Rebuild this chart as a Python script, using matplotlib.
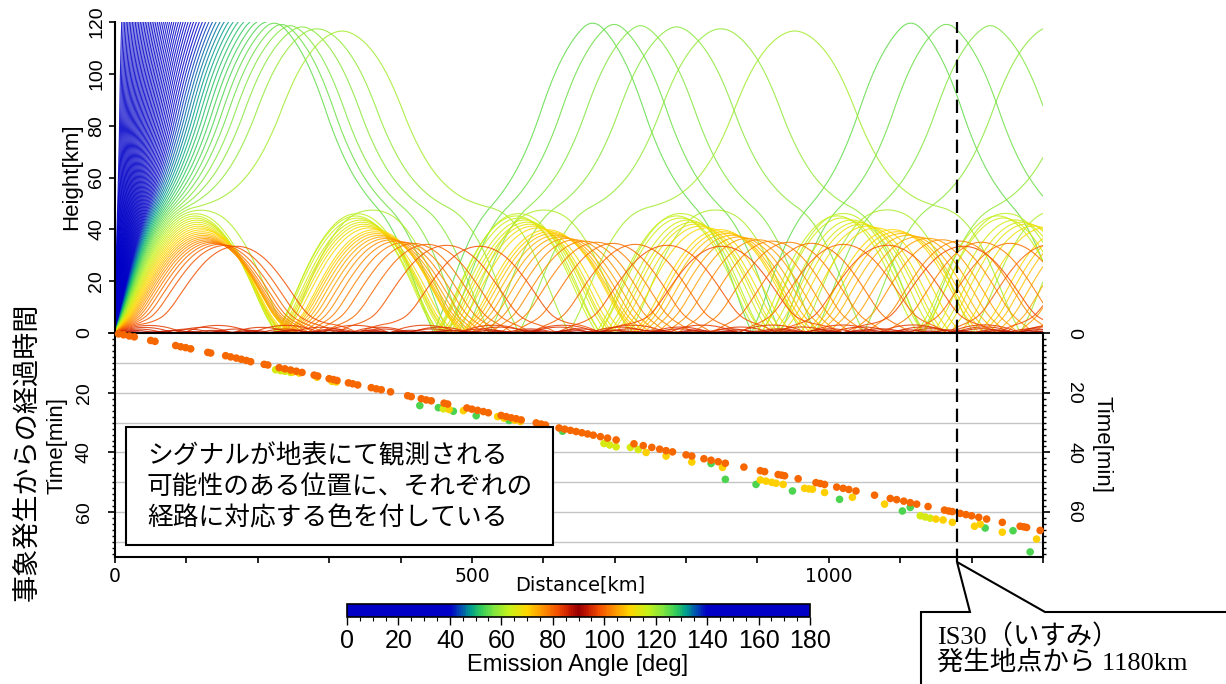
import numpy as np
import matplotlib
matplotlib.use("Agg")
import matplotlib.pyplot as plt
from matplotlib.colors import LinearSegmentedColormap, Normalize
from matplotlib.ticker import MultipleLocator, FixedLocator
from matplotlib.patches import Rectangle, Polygon
from matplotlib.collections import LineCollection
from matplotlib.cm import ScalarMappable
from matplotlib import font_manager as fm

# ---------------------------------------------------------------- data
# effective sound-speed profile (normalised to the ground value)
profile_height_km = [0, 1.5, 3.5, 5.5, 8, 12, 18, 25, 30, 34, 37, 40, 43.5, 46,
                     48.5, 51, 58, 70, 85, 95, 105, 112, 116, 118, 120, 130]
profile_speed = [1.000, 1.004, 1.0092, 1.000, 0.965, 0.925, 0.925, 0.950, 0.985,
                 1.014, 1.040, 1.066, 1.103, 1.133, 1.152, 1.146, 1.105, 1.010,
                 0.915, 0.960, 1.045, 1.108, 1.148, 1.176, 1.235, 1.300]
# horizontal wind along the path (normalised to the ground sound speed)
wind_height_km = [0, 5, 15, 30, 48, 65, 85, 100, 120, 130]
wind_speed = [0.0, 0.03, 0.08, 0.08, 0.12, 0.09, 0.05, 0.07, 0.13, 0.13]

# launch angles of the traced rays (deg from zenith)
ray_angles_deg = list(range(0, 90))

# ground arrivals: distance [km], time [min], emission angle [deg]
orange_dist = [5, 12, 20, 27, 50, 56, 85, 92, 99, 106, 130, 134, 155, 162, 170, 177,
               184, 190, 209, 214, 230, 238, 246, 254, 262, 279, 284, 300, 306, 311,
               327, 333, 340, 359, 366, 373, 386, 410, 415, 429, 436, 443, 461, 466,
               493, 500, 508, 516, 523, 541, 548, 555, 562, 569, 590, 597, 603, 622,
               630, 638, 646, 654, 662, 670, 680, 690, 702, 727, 740, 752, 763, 772,
               781, 800, 808, 825, 835, 845, 855, 881, 904, 910, 929, 934, 938, 957,
               982, 988, 994, 1011, 1020, 1028, 1038, 1064, 1086, 1095, 1105, 1114,
               1123, 1139, 1162, 1168, 1173, 1184, 1192, 1200, 1210, 1221, 1243, 1268,
               1273, 1277, 1296]
orange_time = [0.3, 0.6, 1.0, 1.3, 2.5, 2.8, 4.2, 4.6, 4.9, 5.3, 6.5, 6.7, 7.6, 8.0,
               8.4, 8.8, 9.2, 9.6, 10.5, 10.7, 11.6, 12.0, 12.4, 12.8, 13.2, 14.1,
               14.4, 15.3, 15.6, 15.9, 16.7, 17.0, 17.4, 18.3, 18.7, 19.0, 19.7, 21.0,
               21.3, 22.0, 22.4, 22.7, 23.5, 23.8, 25.1, 25.5, 25.9, 26.3, 26.7, 27.6,
               28.0, 28.4, 28.7, 29.1, 30.1, 30.5, 30.8, 31.8, 32.2, 32.6, 33.0, 33.4,
               33.8, 34.2, 34.7, 35.2, 35.8, 37.1, 37.7, 38.3, 38.9, 39.4, 39.8, 40.8,
               41.2, 42.1, 42.6, 43.1, 43.6, 44.9, 46.1, 46.4, 47.4, 47.6, 47.8, 48.8,
               50.1, 50.4, 50.7, 51.6, 52.0, 52.4, 52.9, 54.3, 55.4, 55.8, 56.3, 56.8,
               57.3, 58.1, 59.3, 59.6, 59.8, 60.4, 60.8, 61.2, 61.7, 62.3, 63.4, 64.7,
               64.9, 65.1, 66.1]
orange_angle = 80

yellow_dist = [250, 258, 283, 304, 310, 468, 488, 536, 545, 560, 568, 744, 772, 808,
               851, 904, 912, 920, 926, 936, 966, 972, 977, 994, 1033, 1078, 1150,
               1160, 1173, 1204, 1212, 1243, 1291]
yellow_time = [13.0, 13.4, 14.8, 16.2, 16.4, 25.6, 26.0, 28.0, 28.5, 29.2, 29.6, 40.0,
               41.2, 43.2, 45.0, 49.2, 49.6, 50.0, 50.3, 50.7, 52.0, 52.2, 52.3, 53.4,
               55.0, 57.3, 62.3, 62.6, 63.4, 64.7, 64.0, 66.7, 69.0]
yellow_angle = 71

lime_dist = [225, 232, 238, 246, 460, 685, 693, 702, 722, 733, 1128, 1135, 1142]
lime_time = [12.3, 12.6, 12.8, 13.2, 25.4, 37.0, 37.5, 38.1, 38.3, 39.0, 61.2, 61.6, 62.0]
lime_angle = 65

green_dist = [427, 453, 474, 506, 552, 627, 835, 855, 898, 949, 1015, 1103, 1114,
              1219, 1258, 1282]
green_time = [24.3, 25.0, 26.2, 27.7, 29.3, 32.9, 43.7, 49.0, 50.7, 52.9, 55.7, 59.6,
              58.4, 65.3, 66.2, 73.3]
green_angle = 54

# colour scale for the emission angle (symmetric about the horizontal, 90 deg)
cmap_angles = [0, 40, 44, 48, 52, 57, 63, 70, 76, 82, 87, 90]
cmap_colors = [(0.0, 0.0, 0.78), (0.0, 0.0, 0.78), (0.0, 0.30, 0.70), (0.0, 0.62, 0.55),
               (0.20, 0.80, 0.35), (0.50, 0.90, 0.25), (0.78, 0.95, 0.10),
               (1.0, 0.84, 0.0), (1.0, 0.58, 0.0), (0.95, 0.30, 0.0),
               (0.75, 0.08, 0.0), (0.58, 0.0, 0.0)]

station_km = 1180
x_max_km = 1300
z_top_km = 120
t_max_min = 75

# ---------------------------------------------------------------- fonts
_names = {f.name for f in fm.fontManager.ttflist}
NARROW = "Liberation Sans Narrow" if "Liberation Sans Narrow" in _names else "Liberation Sans"
JP = "Noto Sans CJK JP"

W, H = 1226, 684
fig = plt.figure(figsize=(W / 100, H / 100), dpi=100)


def fx(px):
    return px / W


def fy(py):
    return 1 - py / H


nodes = [(a / 180, c) for a, c in zip(cmap_angles, cmap_colors)]
nodes += [((180 - a) / 180, c) for a, c in reversed(list(zip(cmap_angles[:-1], cmap_colors[:-1])))]
cmap = LinearSegmentedColormap.from_list("emission", nodes)
norm = Normalize(0, 180)

# ---------------------------------------------------------------- ray tracing
zf = np.linspace(0, 130, 2601)
cf = np.interp(zf, profile_height_km, profile_speed)
kern = np.hanning(17)
kern /= kern.sum()
cf = np.convolve(np.pad(cf, 8, mode="edge"), kern, mode="valid")
gf = np.gradient(cf, zf)
uf = np.interp(zf, wind_height_km, wind_speed)


def medium(z):
    return np.interp(z, zf, cf), np.interp(z, zf, gf), np.interp(z, zf, uf)


ang = np.array(ray_angles_deg, dtype=float)
phi = np.radians(90.0 - ang)
x = np.zeros_like(ang)
z = np.zeros_like(ang)
alive = np.ones(ang.size, bool)
end_idx = np.full(ang.size, -1)
ds = 0.2
xs, zs = [x.copy()], [z.copy()]
for i in range(16000):
    if not alive.any():
        break
    c, g, _ = medium(z)
    k1 = -np.cos(phi) * g / c
    phim = phi + 0.5 * ds * k1
    zm = np.abs(z + 0.5 * ds * np.sin(phi))
    cm, gm, um = medium(zm)
    k2 = -np.cos(phim) * gm / cm
    step = np.where(alive, ds, 0.0)
    x = x + step * (np.cos(phim) + um / cm)
    z = z + step * np.sin(phim)
    phi = phi + step * k2
    below = z < 0
    z = np.where(below, -z, z)
    phi = np.where(below, -phi, phi)
    z = np.minimum(z, z_top_km)
    stop = alive & ((z >= z_top_km) | (x >= x_max_km))
    end_idx[stop] = i + 1
    alive &= ~stop
    xs.append(x.copy())
    zs.append(z.copy())
xs = np.array(xs)
zs = np.array(zs)
end_idx[end_idx < 0] = len(xs) - 1

segments, seg_colors = [], []
for k in range(ang.size):
    n = end_idx[k] + 1
    px_ = np.append(xs[:n:3, k], xs[n - 1, k])
    pz_ = np.append(zs[:n:3, k], zs[n - 1, k])
    segments.append(np.column_stack([px_, pz_]))
    seg_colors.append(cmap(norm(ang[k])))

# ---------------------------------------------------------------- height panel
ax_top = fig.add_axes([fx(115), fy(333), fx(1043) - fx(115), fy(22) - fy(333)])
ax_top.add_collection(LineCollection(segments, colors=seg_colors, linewidths=0.8, alpha=0.85))
ax_top.set_xlim(0, x_max_km)
ax_top.set_ylim(0, z_top_km)
for s in ("top", "right", "bottom"):
    ax_top.spines[s].set_visible(False)
ax_top.spines["left"].set_linewidth(1.5)
ax_top.set_xticks([])
ax_top.yaxis.set_major_locator(FixedLocator([0, 20, 40, 60, 80, 100, 120]))
ax_top.set_yticklabels(["", "20", "40", "60", "80", "100", "120"])
ax_top.tick_params(axis="y", direction="out", length=4, width=1.2, pad=3, labelsize=14,
                   labelfontfamily=NARROW)
for lab in ax_top.get_yticklabels():
    lab.set_rotation(90)
    lab.set_va("center")
ax_top.axvline(station_km, color="black", lw=1.6, linestyle=(0, (6, 3)), zorder=5)

# ---------------------------------------------------------------- time panel
ax = fig.add_axes([fx(115), fy(557), fx(1043) - fx(115), fy(333) - fy(557)])
ax.set_xlim(0, x_max_km)
ax.set_ylim(t_max_min, 0)
for t in range(10, 80, 10):
    ax.axhline(t, color="#c4c4c4", lw=1.0, zorder=1)


def draw_points(d, t, a):
    ax.scatter(d, t, s=30, color=cmap(norm(a)), edgecolors="none", zorder=3, clip_on=False)


draw_points(green_dist, green_time, green_angle)
draw_points(lime_dist, lime_time, lime_angle)
draw_points(yellow_dist, yellow_time, yellow_angle)
draw_points(orange_dist, orange_time, orange_angle)

for s in ax.spines.values():
    s.set_linewidth(1.5)
ax.xaxis.set_major_locator(FixedLocator([0, 500, 1000]))
ax.xaxis.set_minor_locator(MultipleLocator(100))
ax.yaxis.set_major_locator(FixedLocator([0, 20, 40, 60]))
ax.yaxis.set_minor_locator(MultipleLocator(2))
ax.tick_params(axis="x", which="both", direction="out", length=4, width=1.2, pad=3,
               labelsize=13.5, labelfontfamily="DejaVu Sans")
ax.tick_params(axis="y", which="major", direction="out", length=5, width=1.2, pad=11,
               left=True, right=True, labelleft=True, labelright=True, labelsize=14,
               labelfontfamily=NARROW)
ax.tick_params(axis="y", which="minor", direction="out", length=2.5, width=1.0,
               left=True, right=True)
for t in ax.yaxis.get_major_ticks():
    t.label1.set_rotation(90)
    t.label1.set_va("center")
    t.label2.set_rotation(270)
    t.label2.set_va("center")
ax.axvline(station_km, ymin=-5 / 224, ymax=1, color="black", lw=1.6,
           linestyle=(0, (6, 3)), zorder=5, clip_on=False)

# ---------------------------------------------------------------- axis titles
fig.text(fx(72), fy(177), "Height[km]", rotation=90, ha="center", va="center",
         family=NARROW, fontsize=16)
fig.text(fx(57), fy(446), "Time[min]", rotation=90, ha="center", va="center",
         family=NARROW, fontsize=16)
fig.text(fx(1102), fy(445), "Time[min]", rotation=270, ha="center", va="center",
         family=NARROW, fontsize=16)
fig.text(fx(580), fy(585), "Distance[km]", ha="center", va="center",
         family="DejaVu Sans", fontsize=14)
fig.text(fx(27), fy(452), "事象発生からの経過時間", rotation=90, ha="center", va="center",
         family=[JP, "DejaVu Sans"], fontsize=19.5)

# ---------------------------------------------------------------- note box
fig.add_artist(Rectangle((fx(126), fy(545)), fx(553) - fx(126), fy(427) - fy(545),
                         transform=fig.transFigure, facecolor="white", edgecolor="black",
                         lw=1.5, zorder=6))
note_lines = ["シグナルが地表にて観測される", "可能性のある位置に、それぞれの", "経路に対応する色を付している"]
for yy, line in zip([456, 487, 518], note_lines):
    fig.text(fx(147), fy(yy), line, ha="left", va="center", family=[JP, "DejaVu Sans"],
             fontsize=18.5, zorder=7)

# ---------------------------------------------------------------- station callout
callout = [(921, 700), (921, 612), (970, 612), (957, 562), (1045, 612), (1240, 612), (1240, 700)]
fig.add_artist(Polygon([(fx(a), fy(b)) for a, b in callout], closed=True,
                       transform=fig.transFigure, facecolor="white", edgecolor="black",
                       lw=1.5, zorder=6, clip_on=False))
fig.text(fx(937), fy(637), "IS30（いすみ）", ha="left", va="center",
         family=["Liberation Serif", JP], fontsize=19, zorder=7)
fig.text(fx(937), fy(662), "発生地点から 1180km", ha="left", va="center",
         family=["Liberation Serif", JP], fontsize=19, zorder=7)

# ---------------------------------------------------------------- colour bar
cax = fig.add_axes([fx(347), fy(617), fx(810) - fx(347), fy(604) - fy(617)])
cb = fig.colorbar(ScalarMappable(norm=norm, cmap=cmap), cax=cax, orientation="horizontal")
cb.outline.set_linewidth(1.2)
cb.set_ticks(list(range(0, 181, 20)))
cax.xaxis.set_minor_locator(MultipleLocator(5))
cax.tick_params(axis="x", which="major", direction="out", length=6, width=1.0, pad=3,
                labelsize=18, labelfontfamily=NARROW)
cax.tick_params(axis="x", which="minor", direction="out", length=3, width=0.8)
fig.text(fx(578), fy(665), "Emission Angle [deg]", ha="center", va="center",
         family="Liberation Sans", fontsize=17)

fig.savefig("out.png", dpi=100)
